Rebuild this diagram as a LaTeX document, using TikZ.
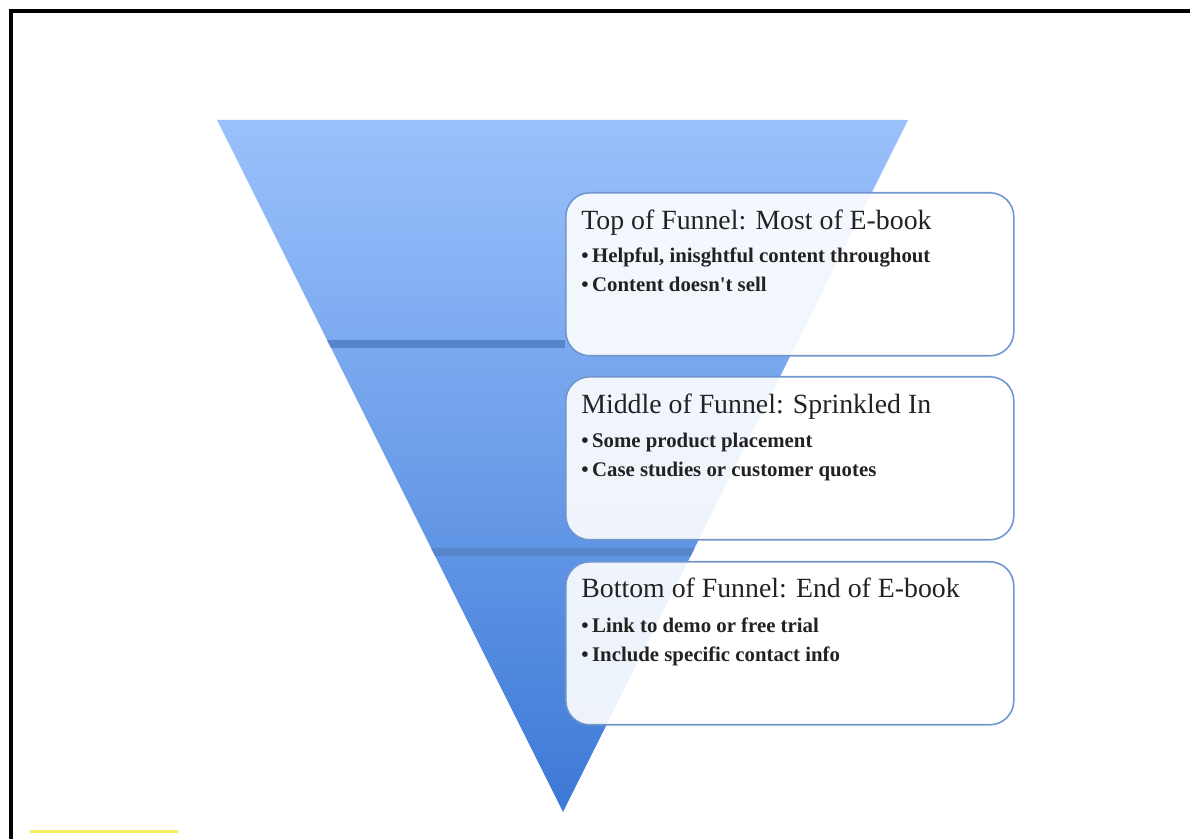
\documentclass[tikz,border=0pt]{standalone}
\usepackage{fontspec}
\setmainfont{Liberation Serif}
\usepackage{xcolor}
\usetikzlibrary{positioning}

\definecolor{funnelTop}{HTML}{9BC1FC}
\definecolor{funnelBot}{HTML}{3C79D6}
\definecolor{bandBlue}{HTML}{5884C9}
\definecolor{boxEdge}{HTML}{7096CE}
\definecolor{inkGray}{HTML}{222222}
\definecolor{markYellow}{HTML}{F4F05C}

\tikzstyle{stage} = [rectangle, rounded corners=12pt, draw=boxEdge, line width=0.8pt, fill=white, fill opacity=0.9, minimum width=224pt, minimum height=81.5pt, anchor=north west]
\tikzstyle{heading} = [font=\fontsize{13.9}{16}\selectfont, text=inkGray, anchor=base west, inner sep=0pt]
\tikzstyle{point} = [font=\fontsize{10.4}{12}\selectfont\bfseries, text=inkGray, anchor=base west, inner sep=0pt]

\begin{document}
\begin{tikzpicture}[x=0.5pt, y=-0.5pt]
		\useasboundingbox (0,0) rectangle (1190,839);
		% page frame and marker line
		\draw [line width=2pt] (11,839) -- (11,11) -- (1190,11);
		\draw [markYellow, line width=1.5pt] (30,831) -- (178,831);
		% funnel
		\coordinate (Rim Left) at (217,120);
		\coordinate (Rim Right) at (908,120);
		\coordinate (Tip) at (563,812);
		\shade [top color=funnelTop, bottom color=funnelBot] (Rim Left) -- (Rim Right) -- (Tip) -- cycle;
		\begin{scope}
			\clip (Rim Left) -- (Rim Right) -- (Tip) -- cycle;
			\fill [bandBlue] (200,340) rectangle (565,348);
			\fill [bandBlue] (200,548) rectangle (900,556);
		\end{scope}
		% stage boxes
		\node (Top)[stage] at (565,192) {};
		\node (Top Title)[heading] at ([shift={(16,38)}]Top.north west) {Top of Funnel: Most of E-book};
		\node (Top Point A)[point] at ([shift={(16,71)}]Top.north west) {\textbullet\,Helpful, inisghtful content throughout};
		\node (Top Point B)[point] at ([shift={(16,100)}]Top.north west) {\textbullet\,Content doesn\textquotesingle t sell};
		\node (Middle)[stage] at (565,376) {};
		\node (Middle Title)[heading] at ([shift={(16,38)}]Middle.north west) {Middle of Funnel: Sprinkled In};
		\node (Middle Point A)[point] at ([shift={(16,72)}]Middle.north west) {\textbullet\,Some product placement};
		\node (Middle Point B)[point] at ([shift={(16,101)}]Middle.north west) {\textbullet\,Case studies or customer quotes};
		\node (Bottom)[stage] at (565,561) {};
		\node (Bottom Title)[heading] at ([shift={(16,37)}]Bottom.north west) {Bottom of Funnel: End of E-book};
		\node (Bottom Point A)[point] at ([shift={(16,72)}]Bottom.north west) {\textbullet\,Link to demo or free trial};
		\node (Bottom Point B)[point] at ([shift={(16,101)}]Bottom.north west) {\textbullet\,Include specific contact info};
	\end{tikzpicture}
\end{document}
